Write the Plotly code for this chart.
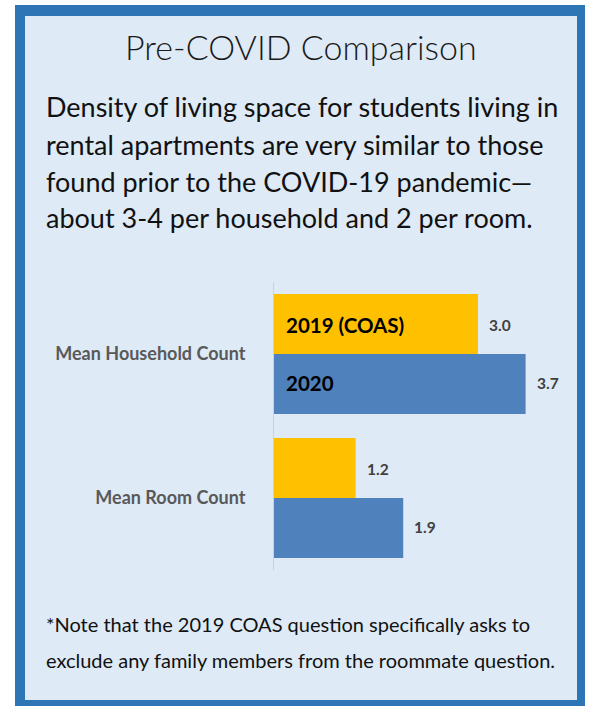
import plotly.graph_objects as go

categories = ["Mean Household Count", "Mean Room Count"]
series_names = ["2019 (COAS)", "2020"]
values_2019 = [3.0, 1.2]
values_2020 = [3.7, 1.9]

title_text = "Pre-COVID Comparison"
para_lines = [
    "Density of living space for students living in",
    "rental apartments are very similar to those",
    "found prior to the COVID-19 pandemic\u2014",
    "about 3-4 per household and 2 per room.",
]
note_lines = [
    "*Note that the 2019 COAS question specifically asks to",
    "exclude any family members from the roommate question.",
]

W, H = 589, 709
FONT = "Lato"
YELLOW = "#FFC000"
BLUE = "#4F81BD"
BORDER = "#2E75B6"
PANEL = "#DEEAF6"

def px(x):
    return x / W

def py(y):
    return 1 - y / H

fig = go.Figure()
fig.add_trace(go.Bar(y=categories, x=values_2019, name=series_names[0], orientation="h",
                     marker=dict(color=YELLOW, line=dict(width=0))))
fig.add_trace(go.Bar(y=categories, x=values_2020, name=series_names[1], orientation="h",
                     marker=dict(color=BLUE, line=dict(width=0))))

shapes = [
    dict(type="rect", xref="paper", yref="paper", x0=px(15), x1=px(585), y0=py(706), y1=py(5),
         fillcolor=BORDER, line=dict(width=0), layer="below"),
    dict(type="rect", xref="paper", yref="paper", x0=px(25), x1=px(577), y0=py(700), y1=py(16),
         fillcolor=PANEL, line=dict(width=0), layer="below"),
]

annotations = []
annotations.append(dict(text=title_text, xref="paper", yref="paper", x=px(301), y=py(46),
                        xanchor="center", yanchor="middle", showarrow=False,
                        font=dict(family=FONT, size=34, color="#1a1a1a", weight=300)))
for i, line in enumerate(para_lines):
    annotations.append(dict(text=line, xref="paper", yref="paper", x=px(44), y=py(107 + 37 * i),
                            xanchor="left", yanchor="middle", showarrow=False,
                            font=dict(family=FONT, size=27, color="#111111")))
for i, line in enumerate(note_lines):
    annotations.append(dict(text=line, xref="paper", yref="paper", x=px(44), y=py(624 + 36 * i),
                            xanchor="left", yanchor="middle", showarrow=False,
                            font=dict(family=FONT, size=20, color="#111111")))

# value labels and in-bar series labels
for ci, cat in enumerate(categories):
    for si, (vals, shift) in enumerate([(values_2019, 29), (values_2020, -29)]):
        annotations.append(dict(text=f"<b>{vals[ci]:.1f}</b>", x=vals[ci], y=cat, xref="x", yref="y",
                                xanchor="left", yanchor="middle", xshift=9, yshift=shift, showarrow=False,
                                font=dict(family=FONT, size=15.5, color="#404040")))
for si, (name, shift) in enumerate([(series_names[0], 29), (series_names[1], -29)]):
    annotations.append(dict(text=f"<b>{name}</b>", x=0, y=categories[0], xref="x", yref="y",
                            xanchor="left", yanchor="middle", xshift=10, yshift=shift, showarrow=False,
                            font=dict(family=FONT, size=20.5, color="#000000")))

fig.update_layout(
    width=W, height=H,
    margin=dict(l=0, r=0, t=0, b=0),
    paper_bgcolor="white", plot_bgcolor="rgba(0,0,0,0)",
    barmode="group", bargap=0.167, bargroupgap=0,
    showlegend=False,
    shapes=shapes, annotations=annotations,
    xaxis=dict(domain=[px(274), px(580)], range=[0, 4.5], showgrid=False, zeroline=False,
               showticklabels=False, showline=False, fixedrange=True),
    yaxis=dict(domain=[py(570), py(282)], autorange="reversed", showgrid=False, zeroline=False,
               showline=True, linecolor="#D0D0D0", linewidth=1, ticks="",
               ticklabelstandoff=24,
               tickfont=dict(family=FONT, size=18, color="#595959", weight="bold")),
    font=dict(family=FONT),
)

fig.write_html("out.html", config={"displayModeBar": False},
               post_script="document.body.style.margin='0';document.body.style.overflow='hidden';")
